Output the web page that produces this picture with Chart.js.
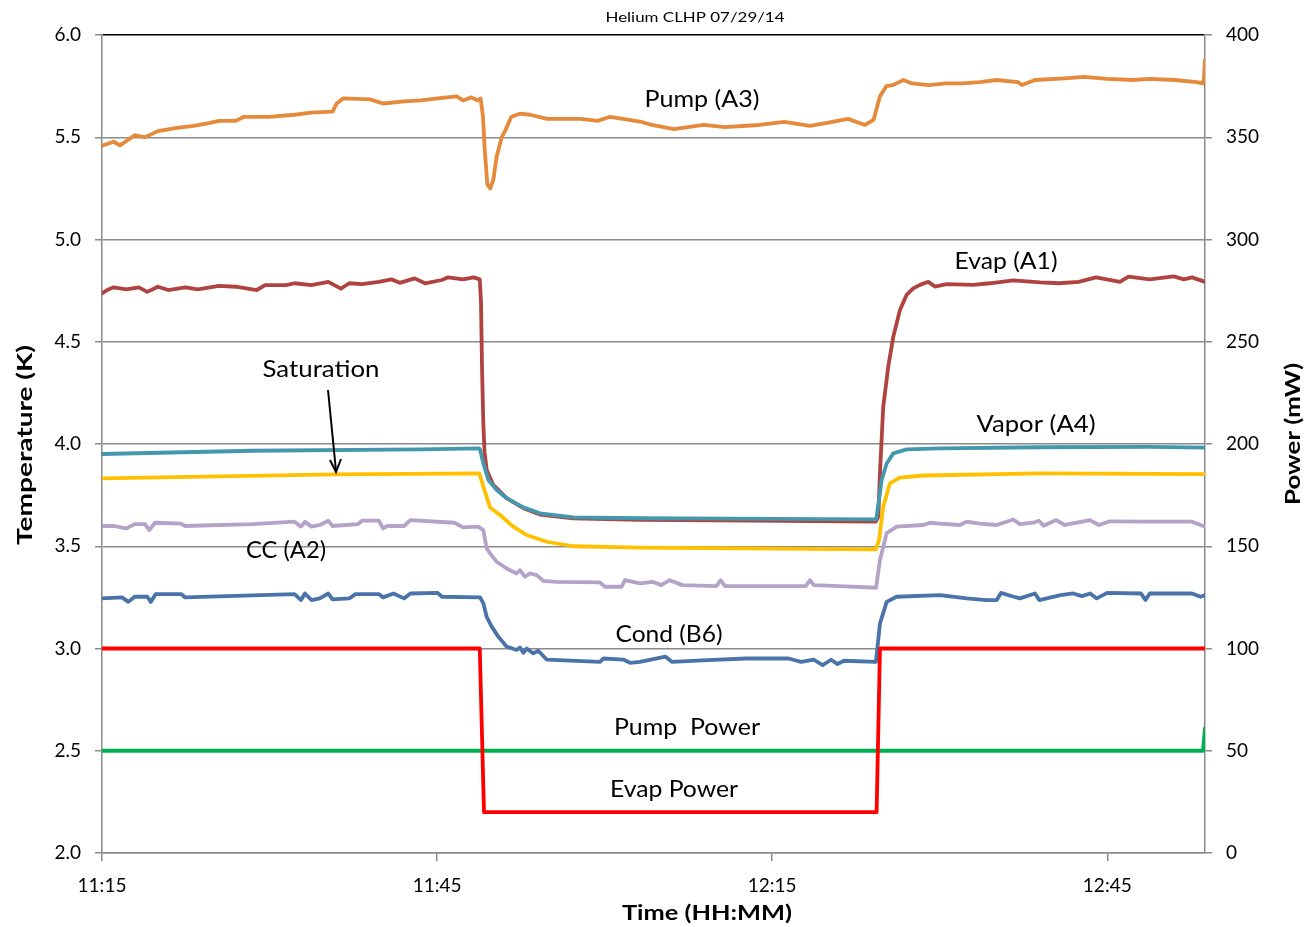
<!DOCTYPE html>
<html>
<head>
<meta charset="utf-8">
<script src="https://cdn.jsdelivr.net/npm/chart.js@4.4.1/dist/chart.umd.min.js"></script>
<style>
  html, body { margin: 0; padding: 0; background: #fff; }
  #wrap { width: 1306px; height: 927px; }
</style>
</head>
<body>
<div id="wrap"><canvas id="myChart" width="1306" height="927"></canvas></div>
<script>
// time axis: minutes after 11:15
const tickMinutes = [0, 30, 60, 90]
const tickLabels = ['11:15', '11:45', '12:15', '12:45']
const endMinute = 98.75

// Pump (A3)
const pumpT = [0, 1.04, 1.61, 2.93, 3.85, 5.0, 6.7, 8.2, 9.67, 10.46, 11.97, 12.71, 14.95, 17.24, 18.71, 20.64, 21.01, 21.58, 23.99, 25.16, 27.04, 28.55, 30.05, 31.75, 32.32, 33.07, 33.63, 33.9, 34.11, 34.27, 34.5, 34.76, 35.03, 35.33, 35.78, 36.08, 36.65, 37.4, 38.32, 39.84, 41.36, 42.86, 44.37, 45.48, 46.64, 48.16, 49.24, 51.21, 53.87, 55.77, 58.82, 61.09, 63.38, 64.91, 66.79, 68.31, 69.08, 69.65, 70.23, 70.8, 71.75, 72.52, 74.04, 75.55, 77.07, 78.59, 80.11, 82.0, 82.36, 83.53, 86.2, 87.91, 89.97, 92.28, 93.8, 96.06, 97.99, 98.56, 98.66, 98.75]
const pumpV = [5.459, 5.478, 5.46, 5.51, 5.50, 5.53, 5.546, 5.556, 5.57, 5.58, 5.58, 5.60, 5.60, 5.61, 5.62, 5.625, 5.665, 5.69, 5.685, 5.665, 5.675, 5.68, 5.69, 5.70, 5.68, 5.695, 5.68, 5.69, 5.60, 5.435, 5.27, 5.25, 5.29, 5.405, 5.50, 5.53, 5.60, 5.615, 5.61, 5.59, 5.59, 5.59, 5.58, 5.60, 5.59, 5.577, 5.56, 5.54, 5.56, 5.55, 5.56, 5.575, 5.556, 5.57, 5.59, 5.56, 5.585, 5.70, 5.75, 5.755, 5.78, 5.763, 5.755, 5.763, 5.763, 5.77, 5.78, 5.77, 5.755, 5.78, 5.788, 5.795, 5.785, 5.78, 5.785, 5.78, 5.77, 5.763, 5.79, 5.88]

// Evap (A1)
const evapT = [0, 0.47, 1.04, 2.17, 3.3, 4.05, 5.0, 5.94, 7.45, 8.58, 10.47, 11.97, 13.85, 14.61, 16.49, 17.24, 18.74, 20.26, 21.39, 22.14, 23.27, 24.78, 25.91, 26.66, 27.99, 28.92, 30.43, 31.0, 32.32, 33.26, 33.82, 33.93, 34.02, 34.14, 34.25, 34.44, 35.03, 36.22, 37.72, 39.21, 42.19, 48.16, 58.0, 69.27, 69.5, 69.65, 69.94, 70.39, 70.84, 71.44, 72.03, 72.63, 73.23, 73.98, 74.57, 75.62, 77.99, 79.5, 81.58, 83.97, 85.67, 87.44, 88.99, 91.14, 91.9, 93.8, 95.95, 96.85, 97.59, 98.75]
const evapV = [4.737, 4.753, 4.766, 4.756, 4.766, 4.744, 4.769, 4.753, 4.766, 4.756, 4.773, 4.769, 4.753, 4.777, 4.777, 4.786, 4.777, 4.793, 4.76, 4.786, 4.782, 4.793, 4.805, 4.788, 4.81, 4.786, 4.802, 4.815, 4.805, 4.815, 4.805, 4.70, 4.38, 4.10, 3.96, 3.873, 3.80, 3.735, 3.686, 3.655, 3.636, 3.629, 3.625, 3.62, 3.645, 3.856, 4.18, 4.378, 4.524, 4.655, 4.729, 4.761, 4.778, 4.793, 4.77, 4.782, 4.778, 4.786, 4.80, 4.79, 4.786, 4.793, 4.815, 4.793, 4.818, 4.805, 4.82, 4.805, 4.815, 4.793]

// Vapor (A4)
const vaporT = [0, 13.47, 28.55, 33.75, 33.84, 34.14, 34.59, 35.34, 36.22, 37.72, 39.21, 42.19, 48.16, 60, 69.27, 69.36, 69.8, 70.25, 70.84, 72.03, 75.02, 83.97, 93.8, 98.75]
const vaporV = [3.951, 3.967, 3.974, 3.979, 3.974, 3.905, 3.824, 3.775, 3.735, 3.69, 3.661, 3.641, 3.637, 3.634, 3.631, 3.645, 3.824, 3.905, 3.954, 3.974, 3.979, 3.984, 3.986, 3.982]

// Saturation
const satT = [0, 21.01, 33.75, 33.78, 34.29, 34.74, 35.63, 36.82, 38.02, 39.81, 42.19, 48.16, 69.27, 69.57, 69.94, 70.54, 71.44, 73.53, 83.97, 98.75]
const satV = [3.832, 3.851, 3.856, 3.856, 3.766, 3.69, 3.653, 3.596, 3.555, 3.522, 3.50, 3.493, 3.485, 3.53, 3.693, 3.807, 3.836, 3.846, 3.856, 3.853]

// CC (A2)
const ccT = [0, 1.04, 2.17, 2.92, 3.86, 4.24, 4.74, 7.07, 7.45, 13.47, 17.24, 17.82, 18.17, 18.75, 19.5, 20.26, 20.64, 22.89, 23.28, 24.78, 25.16, 25.53, 27.04, 27.61, 31.56, 32.32, 33.69, 34.14, 34.44, 34.74, 35.33, 36.23, 37.12, 37.42, 37.87, 38.32, 38.92, 39.51, 40.71, 44.58, 45.03, 46.52, 46.82, 48.16, 49.29, 50.06, 50.82, 51.97, 55.01, 55.39, 55.77, 63.0, 63.39, 63.74, 66.04, 69.3, 69.65, 70.25, 71.14, 73.53, 74.13, 75.02, 76.81, 77.41, 78.6, 80.1, 81.58, 82.18, 83.37, 83.88, 84.3, 85.43, 86.2, 88.45, 89.24, 90.24, 93.82, 97.58, 98.75]
const ccV = [3.599, 3.599, 3.587, 3.608, 3.608, 3.579, 3.615, 3.611, 3.599, 3.608, 3.62, 3.596, 3.62, 3.596, 3.604, 3.625, 3.599, 3.608, 3.625, 3.625, 3.587, 3.599, 3.599, 3.628, 3.615, 3.592, 3.596, 3.579, 3.489, 3.465, 3.424, 3.391, 3.367, 3.383, 3.351, 3.367, 3.359, 3.331, 3.326, 3.323, 3.302, 3.302, 3.334, 3.318, 3.326, 3.31, 3.334, 3.31, 3.305, 3.334, 3.305, 3.305, 3.334, 3.31, 3.305, 3.297, 3.433, 3.564, 3.596, 3.604, 3.615, 3.611, 3.604, 3.62, 3.611, 3.604, 3.631, 3.608, 3.615, 3.625, 3.60, 3.628, 3.604, 3.628, 3.604, 3.622, 3.62, 3.62, 3.596]

// Cond (B6)
const condT = [0, 1.79, 2.36, 2.92, 4.06, 4.36, 4.81, 7.07, 7.45, 17.24, 17.82, 18.17, 18.75, 19.5, 20.26, 20.64, 22.14, 22.7, 24.78, 25.16, 26.1, 27.04, 27.61, 30.05, 30.43, 33.84, 34.14, 34.44, 34.89, 35.48, 36.23, 37.12, 37.42, 37.72, 38.02, 38.62, 39.06, 39.81, 44.58, 44.88, 46.67, 47.27, 48.16, 50.45, 51.02, 54.25, 57.65, 61.47, 62.6, 63.74, 64.52, 65.27, 65.85, 66.42, 69.29, 69.65, 70.25, 71.14, 75.02, 77.41, 79.2, 80.11, 80.48, 81.63, 82.18, 83.53, 83.91, 85.82, 86.96, 87.72, 88.48, 89.05, 90.0, 93.02, 93.42, 93.8, 97.58, 98.36, 98.75]
const condV = [3.245, 3.25, 3.228, 3.253, 3.253, 3.228, 3.266, 3.266, 3.25, 3.266, 3.237, 3.269, 3.237, 3.245, 3.269, 3.24, 3.245, 3.266, 3.266, 3.25, 3.269, 3.245, 3.269, 3.272, 3.253, 3.25, 3.221, 3.155, 3.107, 3.058, 3.009, 2.993, 3.005, 2.979, 3.00, 2.976, 2.989, 2.946, 2.935, 2.951, 2.946, 2.93, 2.935, 2.96, 2.935, 2.943, 2.951, 2.951, 2.935, 2.945, 2.919, 2.945, 2.924, 2.94, 2.935, 3.122, 3.228, 3.253, 3.261, 3.245, 3.237, 3.237, 3.272, 3.253, 3.245, 3.269, 3.237, 3.261, 3.269, 3.256, 3.269, 3.245, 3.272, 3.269, 3.237, 3.269, 3.269, 3.253, 3.261]

// power (mW), right axis
const evapPowerT = [0, 33.82, 34.2, 69.35, 69.65, 98.75]
const evapPowerV = [100, 100, 20, 20, 100, 100]
const pumpPowerT = [0, 98.57, 98.75]
const pumpPowerV = [50, 50, 61]

const FONT = 'Lato, "Open Sans", sans-serif'

function pts(ts, vs) {
    return ts.map((t, i) => ({ x: t, y: vs[i] }))
}

function line(label, ts, vs, color, axis) {
    return {
        label: label,
        data: pts(ts, vs),
        borderColor: color,
        backgroundColor: color,
        borderWidth: 3.8,
        borderJoinStyle: 'round',
        borderCapStyle: 'round',
        pointRadius: 0,
        tension: 0,
        fill: false,
        yAxisID: axis
    }
}

// squeeze/stretch text horizontally so it fits the width seen in the picture
function drawFit(ctx, text, cx, cy, w, font, rot) {
    ctx.save()
    ctx.font = font
    ctx.textAlign = 'center'
    ctx.textBaseline = 'middle'
    ctx.fillStyle = '#000'
    const m = ctx.measureText(text).width
    ctx.translate(cx, cy)
    if (rot) ctx.rotate(rot)
    ctx.scale(w / m, 1)
    ctx.fillText(text, 0, 0)
    ctx.restore()
}

const labelsPlugin = {
    id: 'labels',
    afterDraw(chart) {
        const ctx = chart.ctx
        const f = '23px ' + FONT
        drawFit(ctx, 'Helium CLHP 07/29/14', 695, 17, 179, '14px ' + FONT)
        drawFit(ctx, 'Pump (A3)', 702, 100, 115, f)
        drawFit(ctx, 'Evap (A1)', 1006, 262, 103, f)
        drawFit(ctx, 'Saturation', 321, 370, 117, f)
        drawFit(ctx, 'Vapor (A4)', 1036, 425, 119, f)
        drawFit(ctx, 'CC (A2)', 286, 551, 80, f)
        drawFit(ctx, 'Cond (B6)', 669, 635, 107, f)
        drawFit(ctx, 'Pump  Power', 687, 728, 146, f)
        drawFit(ctx, 'Evap Power', 674, 790, 128, f)
        drawFit(ctx, 'Time (HH:MM)', 707, 913, 170, 'bold 21px ' + FONT)
        drawFit(ctx, 'Temperature (K)', 25, 445, 200, 'bold 21px ' + FONT, -Math.PI / 2)
        drawFit(ctx, 'Power (mW)', 1293, 434, 142, 'bold 21px ' + FONT, -Math.PI / 2)

        // arrow to the saturation line
        ctx.save()
        ctx.strokeStyle = '#000'
        ctx.lineWidth = 2
        ctx.beginPath()
        ctx.moveTo(328, 390)
        ctx.lineTo(336, 471)
        ctx.stroke()
        ctx.beginPath()
        ctx.moveTo(330, 460)
        ctx.lineTo(336, 472)
        ctx.lineTo(341, 459)
        ctx.stroke()
        ctx.restore()
    }
}

const GRID = '#8a8a8a'

const config = {
    type: 'line',
    data: {
        datasets: [
            line('Evap Power', evapPowerT, evapPowerV, '#ff0000', 'y1'),
            line('Pump Power', pumpPowerT, pumpPowerV, '#00b050', 'y1'),
            line('Vapor (A4)', vaporT, vaporV, '#4398ae', 'y'),
            line('Evap (A1)', evapT, evapV, '#b0433f', 'y'),
            line('Saturation', satT, satV, '#ffc000', 'y'),
            line('CC (A2)', ccT, ccV, '#b3a3c8', 'y'),
            line('Cond (B6)', condT, condV, '#4a73aa', 'y'),
            line('Pump (A3)', pumpT, pumpV, '#e5893b', 'y')
        ]
    },
    options: {
        responsive: false,
        animation: false,
        devicePixelRatio: 1,
        layout: { padding: { top: 35, left: 0, right: 0, bottom: 0 } },
        plugins: {
            legend: { display: false },
            tooltip: { enabled: false }
        },
        scales: {
            x: {
                type: 'linear',
                min: 0,
                max: endMinute,
                afterBuildTicks: scale => { scale.ticks = tickMinutes.map(v => ({ value: v })) },
                afterFit: scale => { scale.height = 74 },
                ticks: {
                    callback: v => tickLabels[tickMinutes.indexOf(v)],
                    color: '#000',
                    font: { family: FONT, size: 19 },
                    padding: 13,
                    maxRotation: 0
                },
                grid: { drawOnChartArea: false, drawTicks: true, tickLength: 8, color: GRID, lineWidth: 1.5 },
                border: { color: GRID, width: 1.5 }
            },
            y: {
                position: 'left',
                min: 2,
                max: 6,
                afterFit: scale => { scale.width = 102 },
                ticks: {
                    stepSize: 0.5,
                    callback: v => v.toFixed(1),
                    color: '#000',
                    font: { family: FONT, size: 19 },
                    padding: 14
                },
                grid: {
                    color: c => (c.tick && c.tick.value === 6 ? '#000' : GRID),
                    tickColor: GRID,
                    lineWidth: 1.5,
                    tickLength: 7
                },
                border: { color: GRID, width: 1.5 }
            },
            y1: {
                position: 'right',
                min: 0,
                max: 400,
                afterFit: scale => { scale.width = 101 },
                ticks: {
                    stepSize: 50,
                    color: '#000',
                    font: { family: FONT, size: 19 },
                    padding: 14
                },
                grid: { drawOnChartArea: false, color: GRID, lineWidth: 1.5, tickLength: 7 },
                border: { color: GRID, width: 1.5 }
            }
        }
    },
    plugins: [labelsPlugin]
}

const myChart = new Chart(document.getElementById('myChart'), config)
</script>
</body>
</html>
